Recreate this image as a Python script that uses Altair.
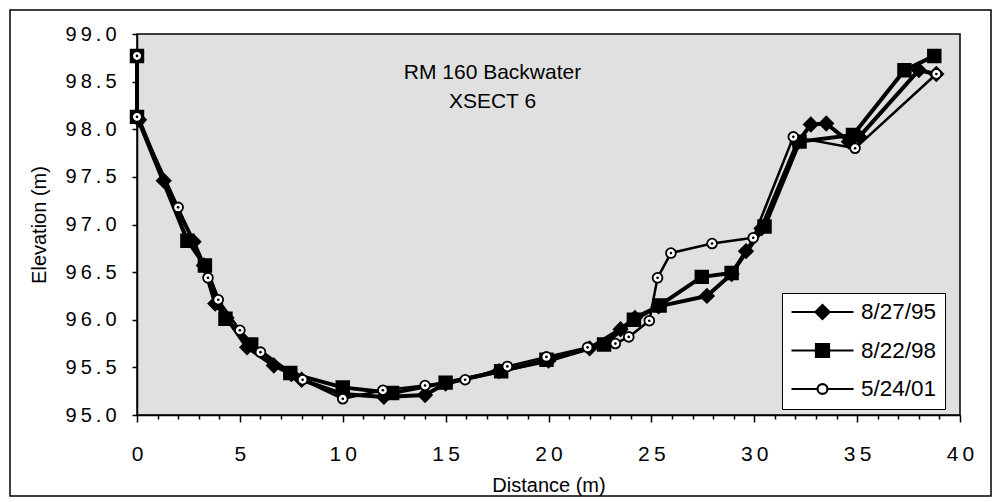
import altair as alt
import pandas as pd

series_names = ["8/27/95", "8/22/98", "5/24/01"]

# 8/27/95 (diamonds)
x_95 = [0.1, 1.3, 2.75, 3.25, 3.8, 4.35, 5.35, 6.65, 7.5, 8.0, 10.0, 12.0, 14.0, 15.0,
        17.6, 20.0, 22.0, 23.5, 24.2, 25.35, 27.7, 28.9, 29.6, 30.35, 32.1, 32.75, 33.5,
        34.6, 35.1, 38.0, 38.85]
y_95 = [98.10, 97.46, 96.82, 96.57, 96.17, 96.02, 95.71, 95.52, 95.43, 95.37, 95.22, 95.19,
        95.21, 95.33, 95.46, 95.57, 95.70, 95.90, 96.02, 96.14, 96.25, 96.48, 96.72, 96.96,
        97.86, 98.05, 98.06, 97.87, 97.92, 98.62, 98.58]

# 8/22/98 (squares)
x_98 = [0.0, 0.0, 2.45, 3.3, 4.3, 5.55, 7.45, 10.0, 12.4, 15.0, 17.7, 19.9, 22.7, 24.15,
        25.4, 27.45, 28.9, 30.5, 32.2, 34.8, 37.3, 38.75]
y_98 = [98.77, 98.13, 96.83, 96.57, 96.01, 95.74, 95.44, 95.29, 95.23, 95.34, 95.46, 95.58,
        95.74, 96.00, 96.15, 96.45, 96.49, 96.98, 97.87, 97.94, 98.62, 98.77]

# 5/24/01 (circles)
x_01 = [0.0, 0.0, 2.0, 3.45, 3.95, 5.0, 6.0, 8.05, 10.0, 11.95, 14.0, 15.95, 18.0, 19.9,
        21.9, 23.25, 23.9, 24.9, 25.3, 25.95, 27.95, 29.95, 31.9, 34.9, 38.85]
y_01 = [98.77, 98.13, 97.18, 96.44, 96.21, 95.89, 95.66, 95.37, 95.17, 95.26, 95.31, 95.37,
        95.51, 95.61, 95.71, 95.75, 95.82, 95.99, 96.44, 96.70, 96.80, 96.86, 97.92, 97.80,
        98.58]

x_ticks = list(range(0, 41))
y_ticks = [95.0, 95.5, 96.0, 96.5, 97.0, 97.5, 98.0, 98.5, 99.0]
chart_title = ["RM 160 Backwater", "XSECT 6"]
x_title = "Distance (m)"
y_title = "Elevation (m)"

rows = []
for name, xs, ys in zip(series_names, [x_95, x_98, x_01], [y_95, y_98, y_01]):
    for i, (xv, yv) in enumerate(zip(xs, ys)):
        rows.append({"series": name, "x": xv, "y": yv, "i": i})
df = pd.DataFrame(rows)

FONT = "Liberation Sans"
THIN = "\u2009"
spaced = "join(split(datum.label, ''), '" + THIN + "')"

x_enc = alt.X(
    "x:Q",
    scale=alt.Scale(domain=[0, 40], nice=False, zero=False),
    title=x_title,
    axis=alt.Axis(
        values=x_ticks,
        labelExpr="datum.value % 5 === 0 ? " + spaced + " : ''",
        tickSize={"condition": {"test": "datum.value % 5 === 0", "value": 7}, "value": 4},
        tickColor="black", tickWidth=1.5, domainColor="black", domainWidth=1.5,
        labelFont=FONT, labelFontSize=21, labelColor="black", labelPadding=21,
        labelFlush=False, labelOverlap=False,
        titleFont=FONT, titleFontSize=20, titleFontWeight="normal", titleColor="black",
        titlePadding=11, grid=False,
    ),
)
y_enc = alt.Y(
    "y:Q",
    scale=alt.Scale(domain=[95, 99], nice=False, zero=False),
    title=y_title,
    axis=alt.Axis(
        values=y_ticks, format=".1f", labelExpr=spaced,
        tickSize=5, tickColor="black", tickWidth=1.5, domainColor="black", domainWidth=1.5,
        labelFont=FONT, labelFontSize=20, labelColor="black", labelPadding=16,
        labelFlush=False, labelOverlap=False,
        titleFont=FONT, titleFontSize=20, titleFontWeight="normal", titleColor="black",
        titlePadding=16, grid=False,
    ),
)

frame = alt.Chart(pd.DataFrame({"k": [0]})).mark_rect(
    filled=False, stroke="black", strokeWidth=1.5, clip=False
).encode(x=alt.value(-127), x2=alt.value(854), y=alt.value(-24), y2=alt.value(462))

styles = {
    "8/27/95": dict(shape="diamond", fill="black", size=190, lw=4),
    "8/22/98": dict(shape="square", fill="black", size=160, lw=4),
    "5/24/01": dict(shape="circle", fill="white", size=95, lw=2.5),
}

layers = [frame]
for name in series_names:
    st = styles[name]
    sub = alt.Chart(df).transform_filter(alt.datum.series == name)
    layers.append(
        sub.mark_line(color="black", strokeWidth=st["lw"], strokeJoin="round").encode(
            x=x_enc, y=y_enc, order="i:Q"
        )
    )
    layers.append(
        sub.mark_point(
            shape=st["shape"], filled=True, fill=st["fill"], stroke="black",
            strokeWidth=1.8, size=st["size"], opacity=1
        ).encode(x=x_enc, y=y_enc)
    )

dots = alt.Chart(df).transform_filter(alt.datum.series == "5/24/01").mark_point(
    shape="circle", filled=True, fill="black", size=7, opacity=1
).encode(x=x_enc, y=y_enc)
layers.append(dots)

legend_paths = [
    "M-1,0H-0.226M0.226,0H1M-0.226,0L0,-0.226L0.226,0L0,0.226Z",
    "M-1,0H-0.21M0.21,0H1M-0.21,-0.21H0.21V0.21H-0.21Z",
    "M-1,0H-0.16M0.16,0H1M0.16,0C0.16,0.088,0.088,0.16,0,0.16C-0.088,0.16,-0.16,0.088,-0.16,0"
    "C-0.16,-0.088,-0.088,-0.16,0,-0.16C0.088,-0.16,0.16,-0.088,0.16,0Z",
]
leg = alt.Legend(
    title=None, orient="none", legendX=645, legendY=259,
    fillColor="white", strokeColor="black", padding=8,
    labelFont=FONT, labelFontSize=22.5, labelColor="black", labelOffset=6,
    symbolSize=3844, symbolStrokeColor="black", symbolStrokeWidth=2.2,
    clipHeight=22, rowPadding=15.5,
)
legend_layer = alt.Chart(df).transform_filter("datum.x < -1000").mark_point(
    filled=True, opacity=1, strokeWidth=2.2
).encode(
    x=x_enc, y=y_enc,
    shape=alt.Shape("series:N", scale=alt.Scale(domain=series_names, range=legend_paths), legend=leg),
    fill=alt.Fill("series:N", scale=alt.Scale(domain=series_names, range=["black", "black", "white"]), legend=leg),
    stroke=alt.Stroke("series:N", scale=alt.Scale(domain=series_names, range=["black", "black", "black"]), legend=leg),
)
layers.append(legend_layer)

chart = alt.layer(*layers).properties(
    width=823, height=381,
    autosize=alt.AutoSizeParams(type="none"),
    padding={"left": 137, "top": 34, "right": 38, "bottom": 87},
    background="white",
    title=alt.Title(
        text=chart_title, anchor="middle", frame="group", dx=-56, offset=-103,
        fontSize=21, font=FONT, fontWeight="normal", lineHeight=29, color="black", orient="top",
    ),
).configure_view(fill="#e0e0e0", stroke="black", strokeWidth=1.5)

chart.save("out.html", embed_options={"renderer": "svg", "actions": False})
